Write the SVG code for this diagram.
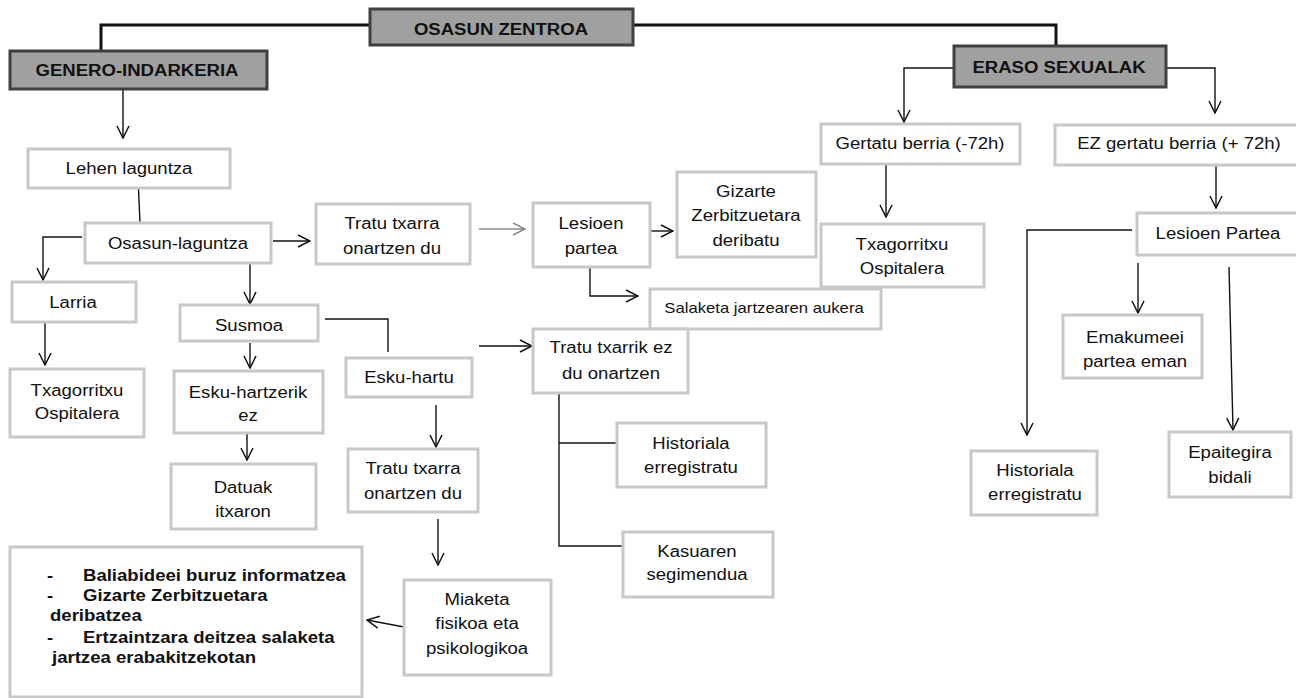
<svg xmlns="http://www.w3.org/2000/svg" width="1296" height="698" viewBox="0 0 1296 698">
<style>
.bx{fill:#fff;stroke:#c8c8c8;stroke-width:3}
.dk{fill:#a0a0a0;stroke:#404040;stroke-width:3}
.t{font-family:"Liberation Sans",Arial,sans-serif;font-size:16px;fill:#111;text-anchor:middle}
.b{font-family:"Liberation Sans",Arial,sans-serif;font-size:16px;font-weight:bold;fill:#111}
.bc{text-anchor:middle}
.c{fill:none;stroke:#111;stroke-width:1.4}
.a{marker-end:url(#ar)}
.th{fill:none;stroke:#111;stroke-width:3}
.g{fill:none;stroke:#888;stroke-width:1.4;marker-end:url(#ag)}
</style>
<defs>
<marker id="ar" markerUnits="userSpaceOnUse" markerWidth="14" markerHeight="14" refX="12" refY="6" orient="auto" viewBox="-1 -1 14 14"><path d="M0,0 L12,6 L0,12" fill="none" stroke="#111" stroke-width="1.5"/></marker>
<marker id="ag" markerUnits="userSpaceOnUse" markerWidth="14" markerHeight="14" refX="12" refY="6" orient="auto" viewBox="-1 -1 14 14"><path d="M0,0 L12,6 L0,12" fill="none" stroke="#888" stroke-width="1.5"/></marker>
</defs>
<rect width="1296" height="698" fill="#fff"/>
<g id="connectors">
<path class="th" d="M370,25 H101 V51"/>
<path class="th" d="M633,25 H1056 V46"/>
<path class="c a" d="M123,89 V138"/>
<path class="c" d="M138,178 L140,223"/>
<path class="c a" d="M82,237 H43 V280"/>
<path class="c a" d="M45,322 V365"/>
<path class="c a" d="M250,263 V304"/>
<path class="c" d="M325,319 H388 V352"/>
<path class="c a" d="M250,343 V368"/>
<path class="c a" d="M247,434 V460"/>
<path class="c a" d="M436,405 V447"/>
<path class="c a" d="M438,519 V565"/>
<path class="c a" d="M404,627 L367,620"/>
<path class="c a" d="M273,241 H310"/>
<path class="g" d="M479,229 H525"/>
<path class="c a" d="M645,231 H673"/>
<path class="c a" d="M590,267 V296 H638"/>
<path class="c a" d="M479,346 H532"/>
<path class="c" d="M559,393 V546 H622 M559,443 H616"/>
<path class="c a" d="M954,68 H904 V122"/>
<path class="c a" d="M1166,68 H1215 V113"/>
<path class="c a" d="M886,164 V217"/>
<path class="c a" d="M1216,165 V208"/>
<path class="c a" d="M1132,230 H1027 V435"/>
<path class="c a" d="M1138,263 L1138,313"/>
<path class="c a" d="M1229,267 L1233,430"/>
</g>
<g id="osasun-zentroa"><rect class="dk" x="370" y="9" width="263" height="36"/><text class="b bc" transform="translate(501,35) scale(1.16,1)">OSASUN ZENTROA</text></g>
<g id="genero"><rect class="dk" x="10" y="51" width="257" height="38"/><text class="b bc" transform="translate(137,76) scale(1.16,1)">GENERO-INDARKERIA</text></g>
<g id="eraso"><rect class="dk" x="954" y="46" width="212" height="41"/><text class="b bc" transform="translate(1059,73) scale(1.16,1)">ERASO SEXUALAK</text></g>
<g id="lehen"><rect class="bx" x="28" y="149" width="202" height="39"/><text class="t" transform="translate(129,174) scale(1.16,1)">Lehen laguntza</text></g>
<g id="osasun-laguntza"><rect class="bx" x="85" y="223" width="186" height="40"/><text class="t" transform="translate(178,249) scale(1.16,1)">Osasun-laguntza</text></g>
<g id="larria"><rect class="bx" x="12" y="282" width="124" height="40"/><text class="t" transform="translate(73,308) scale(1.16,1)">Larria</text></g>
<g id="txagorritxu1"><rect class="bx" x="10" y="369" width="134" height="68"/><text class="t" transform="translate(77,396) scale(1.16,1)"><tspan x="0">Txagorritxu</tspan><tspan x="0" dy="23">Ospitalera</tspan></text></g>
<g id="susmoa"><rect class="bx" x="180" y="305" width="138" height="36"/><text class="t" transform="translate(249,331) scale(1.16,1)">Susmoa</text></g>
<g id="esku-hartzerik-ez"><rect class="bx" x="174" y="371" width="149" height="62"/><text class="t" transform="translate(248,398) scale(1.16,1)"><tspan x="0">Esku-hartzerik</tspan><tspan x="0" dy="23">ez</tspan></text></g>
<g id="datuak"><rect class="bx" x="171" y="464" width="145" height="65"/><text class="t" transform="translate(243,493) scale(1.16,1)"><tspan x="0">Datuak</tspan><tspan x="0" dy="24">itxaron</tspan></text></g>
<g id="esku-hartu"><rect class="bx" x="346" y="358" width="126" height="39"/><text class="t" transform="translate(409,383) scale(1.16,1)">Esku-hartu</text></g>
<g id="tratu2"><rect class="bx" x="348" y="449" width="130" height="63"/><text class="t" transform="translate(413,474) scale(1.16,1)"><tspan x="0">Tratu txarra</tspan><tspan x="0" dy="25">onartzen du</tspan></text></g>
<g id="miaketa"><rect class="bx" x="404" y="580" width="147" height="95"/><text class="t" transform="translate(477,605) scale(1.16,1)"><tspan x="0">Miaketa</tspan><tspan x="0" dy="24.5">fisikoa eta</tspan><tspan x="0" dy="24.5">psikologikoa</tspan></text></g>
<g id="baliabideak"><rect class="bx" x="10" y="547" width="352" height="150"/>
<text class="b" transform="translate(47,581) scale(1.16,1)">-</text>
<text class="b" transform="translate(83,581) scale(1.16,1)">Baliabideei buruz informatzea</text>
<text class="b" transform="translate(47,601) scale(1.16,1)">-</text>
<text class="b" transform="translate(83,601) scale(1.16,1)">Gizarte Zerbitzuetara</text>
<text class="b" transform="translate(50,621) scale(1.16,1)">deribatzea</text>
<text class="b" transform="translate(47,643) scale(1.16,1)">-</text>
<text class="b" transform="translate(83,643) scale(1.16,1)">Ertzaintzara deitzea salaketa</text>
<text class="b" transform="translate(52,663) scale(1.16,1)">jartzea erabakitzekotan</text>
</g>
<g id="tratu1"><rect class="bx" x="316" y="204" width="154" height="60"/><text class="t" transform="translate(392,229) scale(1.16,1)"><tspan x="0">Tratu txarra</tspan><tspan x="0" dy="25">onartzen du</tspan></text></g>
<g id="lesioen1"><rect class="bx" x="533" y="203" width="117" height="64"/><text class="t" transform="translate(591,229) scale(1.16,1)"><tspan x="0">Lesioen</tspan><tspan x="0" dy="25">partea</tspan></text></g>
<g id="gizarte"><rect class="bx" x="677" y="172" width="139" height="85"/><text class="t" transform="translate(746,197) scale(1.16,1)"><tspan x="0">Gizarte</tspan><tspan x="0" dy="24.5">Zerbitzuetara</tspan><tspan x="0" dy="24.5">deribatu</tspan></text></g>
<g id="txagorritxu2"><rect class="bx" x="821" y="224" width="163" height="63"/><text class="t" transform="translate(902,250) scale(1.16,1)"><tspan x="0">Txagorritxu</tspan><tspan x="0" dy="24">Ospitalera</tspan></text></g>
<g id="salaketa"><rect class="bx" x="650" y="289" width="231" height="40"/><text class="t" style="font-size:14.4px" transform="translate(764,313) scale(1.16,1)">Salaketa jartzearen aukera</text></g>
<g id="gertatu"><rect class="bx" x="821" y="124" width="199" height="40"/><text class="t" transform="translate(920,149) scale(1.16,1)">Gertatu berria (-72h)</text></g>
<g id="ez-gertatu"><rect class="bx" x="1055" y="125" width="250" height="40"/><text class="t" transform="translate(1179,149) scale(1.16,1)">EZ gertatu berria (+ 72h)</text></g>
<g id="lesioen2"><rect class="bx" x="1137" y="213" width="165" height="42"/><text class="t" transform="translate(1218,239) scale(1.16,1)">Lesioen Partea</text></g>
<g id="emakumeei"><rect class="bx" x="1063" y="315" width="139" height="63"/><text class="t" transform="translate(1135,343) scale(1.16,1)"><tspan x="0">Emakumeei</tspan><tspan x="0" dy="24">partea eman</tspan></text></g>
<g id="epaitegira"><rect class="bx" x="1169" y="432" width="122" height="65"/><text class="t" transform="translate(1230,458) scale(1.16,1)"><tspan x="0">Epaitegira</tspan><tspan x="0" dy="25">bidali</tspan></text></g>
<g id="historiala2"><rect class="bx" x="971" y="451" width="126" height="64"/><text class="t" transform="translate(1035,476) scale(1.16,1)"><tspan x="0">Historiala</tspan><tspan x="0" dy="24">erregistratu</tspan></text></g>
<g id="tratu-txarrik-ez"><rect class="bx" x="533" y="329" width="155" height="64"/><text class="t" transform="translate(611,353) scale(1.16,1)"><tspan x="0">Tratu txarrik ez</tspan><tspan x="0" dy="26">du onartzen</tspan></text></g>
<g id="historiala1"><rect class="bx" x="617" y="423" width="149" height="64"/><text class="t" transform="translate(691,449) scale(1.16,1)"><tspan x="0">Historiala</tspan><tspan x="0" dy="24">erregistratu</tspan></text></g>
<g id="kasuaren"><rect class="bx" x="623" y="532" width="150" height="65"/><text class="t" transform="translate(697,557) scale(1.16,1)"><tspan x="0">Kasuaren</tspan><tspan x="0" dy="23">segimendua</tspan></text></g>
</svg>
